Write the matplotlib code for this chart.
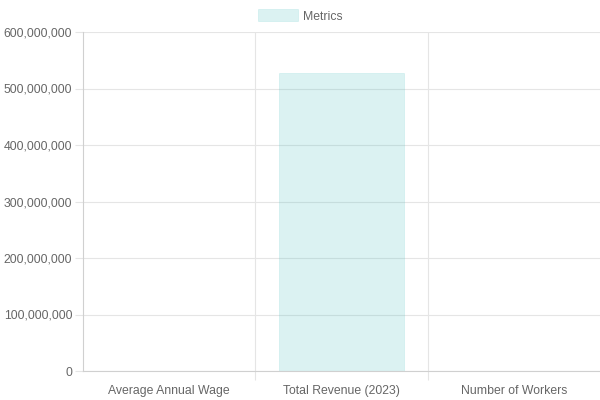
import matplotlib.pyplot as plt
from matplotlib.patches import Rectangle
from matplotlib.ticker import FuncFormatter, MultipleLocator

categories = ['Average Annual Wage', 'Total Revenue (2023)', 'Number of Workers']
values = [56000, 527000000, 1500]
legend_label = 'Metrics'

fill = (75/255, 192/255, 192/255, 0.2)
text_col = '#666666'
grid_col = '#e5e5e5'

plt.rcParams['font.family'] = ['Liberation Sans', 'DejaVu Sans']

fig = plt.figure(figsize=(6, 4), dpi=100)
ax = fig.add_axes([83/600, 1 - 371/400, 517/600, 339/400])

x = list(range(len(categories)))
ax.bar(x, values, width=0.72, color=fill, edgecolor=fill, linewidth=0.5)

ax.set_xlim(-0.5, len(categories) - 0.5)
ax.set_ylim(0, 600000000)
ax.yaxis.set_major_locator(MultipleLocator(100000000))
ax.yaxis.set_major_formatter(FuncFormatter(lambda v, p: f'{int(v):,}'))

ax.set_xticks(x)
ax.set_xticklabels(categories)
ax.set_xticks([i + 0.5 for i in x[:-1]], minor=True)

ax.grid(True, axis='y', color=grid_col, linewidth=0.8)
ax.grid(True, axis='x', which='minor', color=grid_col, linewidth=0.8)
ax.set_axisbelow(True)

ax.tick_params(axis='y', length=5.8, width=0.8, color=grid_col, labelsize=8.8,
               labelcolor=text_col, pad=2)
ax.tick_params(axis='x', which='major', length=0, labelsize=8.8, labelcolor=text_col, pad=10)
ax.tick_params(axis='x', which='minor', length=6.5, width=0.8, color=grid_col)

for s in ['top', 'right']:
    ax.spines[s].set_visible(False)
ax.spines['left'].set_color('#d0d0d0')
ax.spines['bottom'].set_color('#d0d0d0')
ax.spines['left'].set_linewidth(0.8)
ax.spines['bottom'].set_linewidth(0.8)

# legend
fig.patches.append(Rectangle((258/600, 1 - 21/400), 40/600, 12/400,
                             transform=fig.transFigure, facecolor=fill,
                             edgecolor=fill, linewidth=0.5))
fig.text(303/600, 1 - 16.5/400, legend_label, fontsize=8.8, color=text_col,
         va='center', ha='left')

fig.savefig('out.png', dpi=100)
